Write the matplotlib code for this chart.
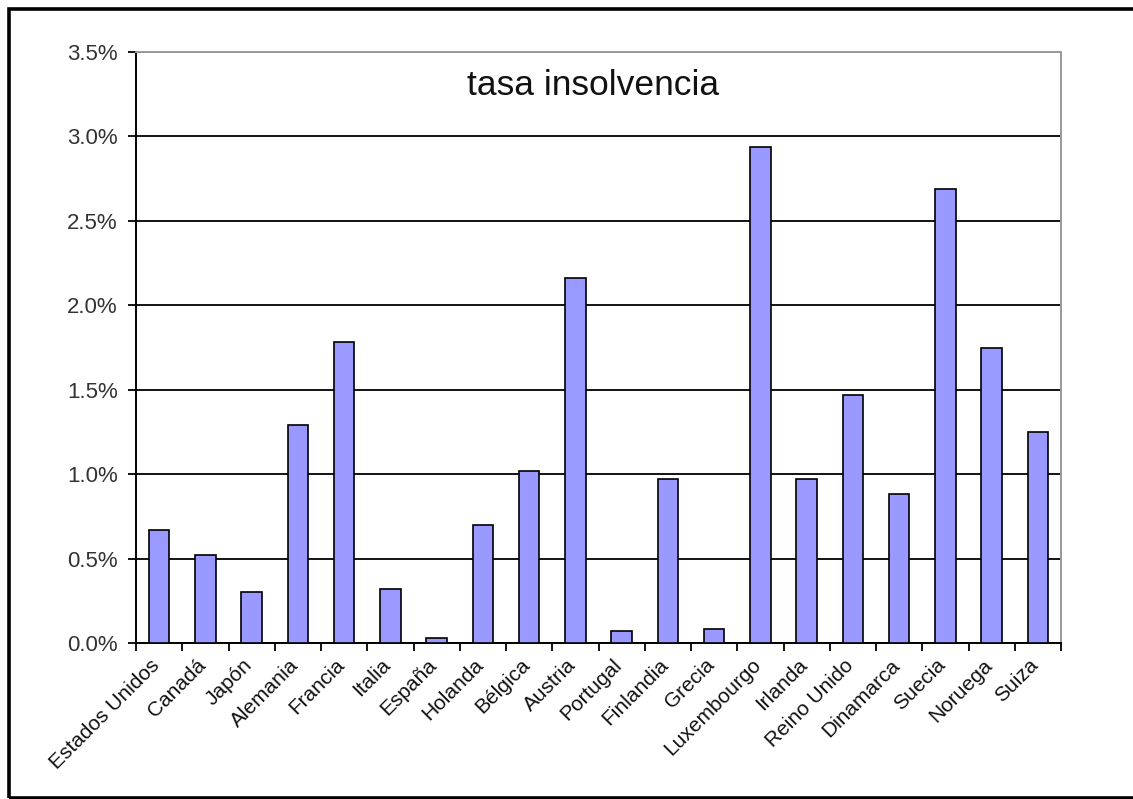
import matplotlib.pyplot as plt
from matplotlib.patches import Rectangle
from matplotlib.ticker import FuncFormatter, FixedLocator
import numpy as np

plt.rcParams['font.family'] = ['Liberation Sans', 'DejaVu Sans']

paises = ["Estados Unidos", "Canadá", "Japón", "Alemania", "Francia", "Italia",
          "España", "Holanda", "Bélgica", "Austria", "Portugal", "Finlandia",
          "Grecia", "Luxembourgo", "Irlanda", "Reino Unido", "Dinamarca",
          "Suecia", "Noruega", "Suiza"]
tasa = [0.67, 0.52, 0.30, 1.29, 1.78, 0.32, 0.03, 0.70, 1.02, 2.16,
        0.07, 0.97, 0.08, 2.94, 0.97, 1.47, 0.88, 2.69, 1.75, 1.25]
y_ticks = [0.0, 0.5, 1.0, 1.5, 2.0, 2.5, 3.0, 3.5]

fig = plt.figure(figsize=(11.33, 7.99), dpi=100)
ax = fig.add_axes([136 / 1133, 1 - 643 / 799, 925 / 1133, 591 / 799])

x = np.arange(len(paises))
ax.bar(x, tasa, width=0.44, color='#9999ff', edgecolor='black', linewidth=1.2, zorder=3)

ax.set_xlim(-0.5, len(paises) - 0.5)
ax.set_ylim(0, 3.5)
ax.set_yticks(y_ticks)
ax.yaxis.set_major_formatter(FuncFormatter(lambda v, p: f"{v:.1f}%"))
ax.yaxis.grid(True, color='black', linewidth=1.3, zorder=1)

# labels sit a little left of the bar centres, like the original
ax.set_xticks(x - 0.2)
ax.set_xticklabels(paises, rotation=45, ha='right', rotation_mode='anchor')
ax.xaxis.set_minor_locator(FixedLocator(np.arange(len(paises) + 1) - 0.5))
ax.tick_params(axis='x', which='major', length=0, pad=9, labelsize=15, labelcolor='#111111')
ax.tick_params(axis='x', which='minor', length=6, width=1.3, direction='out')
ax.tick_params(axis='y', length=6, width=1.3, direction='out', pad=7,
               labelsize=16, labelcolor='#333333')

for s in ['left', 'bottom']:
    ax.spines[s].set_color('black')
    ax.spines[s].set_linewidth(1.4)
for s in ['top', 'right']:
    ax.spines[s].set_color('#999999')
    ax.spines[s].set_linewidth(1.4)

ax.text(0.494, (643 - 95) / 591, "tasa insolvencia", transform=ax.transAxes,
        ha='center', va='baseline', fontsize=25.5, color='#111111')

fig.patches.append(Rectangle((9 / 1133, 1.5 / 799), 1.05, 1 - 10 / 799,
                             transform=fig.transFigure, fill=False,
                             edgecolor='black', linewidth=2.6))

fig.savefig("out.png", dpi=100)
